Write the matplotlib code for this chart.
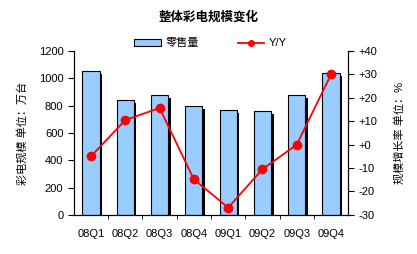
import matplotlib
matplotlib.use('Agg')
import matplotlib.pyplot as plt
import matplotlib.transforms as mtransforms
from matplotlib.lines import Line2D
from matplotlib.patches import Patch

plt.rcParams['font.family'] = ['Liberation Sans', 'Noto Sans CJK SC', 'DejaVu Sans']
plt.rcParams['axes.unicode_minus'] = False

# 数据
quarters = ['08Q1', '08Q2', '08Q3', '08Q4', '09Q1', '09Q2', '09Q3', '09Q4']
sales = [1052, 840, 878, 797, 766, 760, 878, 1037]
yoy = [-5, 10.5, 15.7, -14.8, -26.9, -10.5, 0, 30]

fig = plt.figure(figsize=(4.17, 2.54), dpi=100)
ax = fig.add_axes([0.177, 0.154, 0.658, 0.645])
x = list(range(len(quarters)))

# 阴影 + 柱子
shadow = mtransforms.offset_copy(ax.transData, fig=fig, x=2.5, y=-2.5, units='dots')
ax.bar(x, sales, width=0.5, color='black', transform=shadow, zorder=1)
ax.bar(x, sales, width=0.5, color='#99ccff', edgecolor='black', linewidth=0.8, zorder=2)

ax.set_xlim(-0.5, 7.5)
ax.set_ylim(0, 1200)
ax.set_yticks(range(0, 1201, 200))
ax.set_xticks(x)
ax.set_xticklabels(quarters, fontsize=8)
ax.set_xticks([i + 0.5 for i in x[:-1]], minor=True)
ax.tick_params(axis='x', which='major', length=0, pad=10)
ax.tick_params(axis='x', which='minor', length=3, direction='out')
ax.tick_params(axis='y', labelsize=8, length=4, direction='out')
ax.spines['top'].set_visible(False)
ax.set_ylabel('彩电规模 单位：万台', fontsize=8, labelpad=8)

ax2 = ax.twinx()
ax2.plot(x, yoy, color='red', lw=1.3, marker='o', markersize=6, zorder=3)
ax2.set_ylim(-30, 40)
ticks = list(range(-30, 41, 10))
ax2.set_yticks(ticks)
ax2.set_yticklabels([('+%d' % t) if t >= 0 else str(t) for t in ticks], fontsize=8)
ax2.tick_params(axis='y', length=4, direction='out')
ax2.spines['top'].set_visible(False)
ax2.set_ylabel('规模增长率 单位：%', fontsize=8, rotation=90, labelpad=12)
ax2.set_zorder(ax.get_zorder() + 1)
ax2.patch.set_visible(False)

fig.text(0.5, 0.93, '整体彩电规模变化', ha='center', va='center', fontsize=9, fontweight='bold')

handles = [Patch(facecolor='#99ccff', edgecolor='black', linewidth=0.8),
           Line2D([], [], color='red', lw=1.3, marker='o', markersize=4)]
fig.legend(handles, ['零售量', 'Y/Y'], loc='center', bbox_to_anchor=(0.505, 0.83), ncol=2,
           frameon=False, fontsize=8, handlelength=2.4, handleheight=0.6,
           handletextpad=0.4, columnspacing=3.5)

fig.savefig('out.png', dpi=100)
